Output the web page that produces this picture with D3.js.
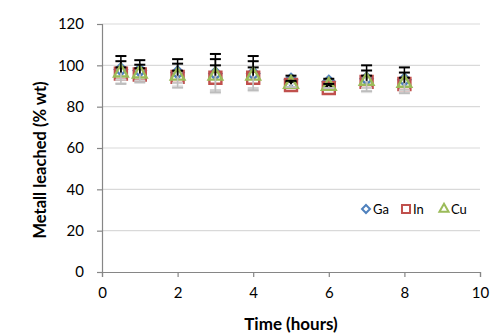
<!DOCTYPE html>
<html>
<head>
<meta charset="utf-8">
<script src="https://cdn.jsdelivr.net/npm/d3@7"></script>
<style>
  body { margin: 0; background: #fff; }
  text { font-family: Lato, "Open Sans", sans-serif; fill: #000; }
</style>
</head>
<body>
<div id="chart"></div>
<script>
// data
var times = [0.5, 1, 2, 3, 4, 5, 6, 7, 8];
var gaValues = [98, 97.5, 96.5, 96, 96, 93, 92, 93.5, 93];
var inValues = [96, 95.6, 94.4, 94, 94, 90.5, 89, 92, 91];
var cuValues = [96.5, 96, 95, 95, 95, 91, 90, 92.5, 91.5];
var gaErrors = [6.5, 5, 6.5, 9.5, 8.5, 2, 1.5, 6.5, 6];
var inErrors = [3, 3, 3, 6, 5, 1.5, 1, 3, 3];
var cuErrors = [5.5, 4.3, 5.8, 8, 7, 1.5, 1, 5, 5];
var xTicks = [0, 2, 4, 6, 8, 10];
var yTicks = [0, 20, 40, 60, 80, 100, 120];

var svgWidth = 492;
var svgHeight = 336;
var margin = { top: 24, right: 12, bottom: 64, left: 102 };
var width = svgWidth - margin.left - margin.right;
var height = svgHeight - margin.top - margin.bottom;

var svg = d3.select("#chart").append("svg")
  .attr("width", svgWidth)
  .attr("height", svgHeight);

var chartGroup = svg.append("g")
  .attr("transform", `translate(${margin.left}, ${margin.top})`);

var xScale = d3.scaleLinear().domain([0, 10]).range([0, width]);
var yScale = d3.scaleLinear().domain([0, 120]).range([height, 0]);

// gridlines
chartGroup.selectAll(".grid")
  .data(yTicks.slice(1))
  .enter().append("line")
  .attr("x1", 0).attr("x2", width)
  .attr("y1", d => yScale(d)).attr("y2", d => yScale(d))
  .attr("stroke", "#d9d9d9").attr("stroke-width", 1.2);

// axes
var axisColor = "#868686";
var xAxis = chartGroup.append("g")
  .attr("transform", `translate(0, ${height})`)
  .call(d3.axisBottom(xScale).tickValues(xTicks).tickSize(5).tickPadding(10));
var yAxis = chartGroup.append("g")
  .call(d3.axisLeft(yScale).tickValues(yTicks).tickSize(5).tickPadding(13));

[xAxis, yAxis].forEach(function(ax) {
  ax.select(".domain").attr("stroke", axisColor).attr("stroke-width", 1.2);
  ax.selectAll(".tick line").attr("stroke", axisColor).attr("stroke-width", 1.2);
  ax.selectAll(".tick text").attr("font-size", "15px").attr("fill", "#000")
    .attr("font-family", "Lato, sans-serif");
});

// series
var series = [
  { name: "Ga", values: gaValues, errors: gaErrors, color: "#4f81bd", shape: d3.symbolDiamond2, size: 90, low: "#e6e6e6" },
  { name: "In", values: inValues, errors: inErrors, color: "#c0504d", shape: d3.symbolSquare, size: 144, low: "#d0d0d0" },
  { name: "Cu", values: cuValues, errors: cuErrors, color: "#9bbb59", shape: d3.symbolTriangle, size: 80, low: "#bdbdbd" }
];

series.forEach(function(s) {
  var pts = times.map((t, i) => ({ t: t, v: s.values[i], e: s.errors[i] }));
  var g = chartGroup.append("g");

  g.selectAll("path")
    .data(pts)
    .enter().append("path")
    .attr("transform", d => `translate(${xScale(d.t)}, ${yScale(d.v)})`)
    .attr("d", d3.symbol().type(s.shape).size(s.size))
    .attr("fill", "none")
    .attr("stroke", s.color)
    .attr("stroke-width", 2.4);

  // error bars: upper half black, lower half gray
  var eb = g.selectAll(".eb").data(pts).enter().append("g");
  eb.append("line")
    .attr("x1", d => xScale(d.t)).attr("x2", d => xScale(d.t))
    .attr("y1", d => yScale(d.v)).attr("y2", d => yScale(d.v + d.e))
    .attr("stroke", "#000").attr("stroke-width", 1.5);
  eb.append("line")
    .attr("x1", d => xScale(d.t) - 5.5).attr("x2", d => xScale(d.t) + 5.5)
    .attr("y1", d => yScale(d.v + d.e)).attr("y2", d => yScale(d.v + d.e))
    .attr("stroke", "#000").attr("stroke-width", 2);
  eb.append("line")
    .attr("x1", d => xScale(d.t)).attr("x2", d => xScale(d.t))
    .attr("y1", d => yScale(d.v)).attr("y2", d => yScale(d.v - d.e))
    .attr("stroke", s.low).attr("stroke-width", 1.5);
  eb.append("line")
    .attr("x1", d => xScale(d.t) - 5.5).attr("x2", d => xScale(d.t) + 5.5)
    .attr("y1", d => yScale(d.v - d.e)).attr("y2", d => yScale(d.v - d.e))
    .attr("stroke", s.low).attr("stroke-width", 2);
});

// legend
var legend = svg.append("g").attr("transform", "translate(366, 209)");
var legendX = [0, 40, 78];
series.forEach(function(s, i) {
  legend.append("path")
    .attr("transform", `translate(${legendX[i]}, 0)`)
    .attr("d", d3.symbol().type(s.shape).size(s.size * 0.45))
    .attr("fill", "none").attr("stroke", s.color).attr("stroke-width", 2);
  legend.append("text")
    .attr("x", legendX[i] + 7).attr("y", 4.5)
    .attr("font-size", "13px")
    .text(s.name);
});

// axis titles
svg.append("text")
  .attr("x", margin.left + width / 2)
  .attr("y", 330)
  .attr("text-anchor", "middle")
  .attr("font-size", "17px").attr("font-weight", "bold")
  .text("Time (hours)");

svg.append("text")
  .attr("transform", "rotate(-90)")
  .attr("x", -160)
  .attr("y", 46)
  .attr("text-anchor", "middle")
  .attr("font-size", "16.5px").attr("font-weight", "bold")
  .text("Metall leached (% wt)");
</script>
</body>
</html>
